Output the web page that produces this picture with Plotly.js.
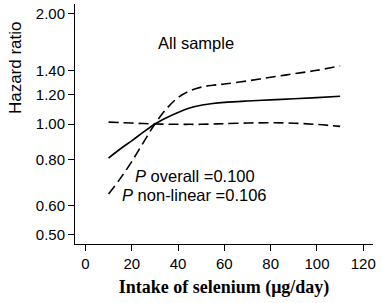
<!DOCTYPE html>
<html>
<head>
<meta charset="utf-8">
<script src="https://cdn.plot.ly/plotly-3.0.1.min.js"></script>
<style>html,body{margin:0;padding:0;background:#fff;}#chart{width:383px;height:303px;}</style>
</head>
<body>
<div id="chart"></div>
<script>
// Intake of selenium (µg/day)
var intake = [10, 15, 20, 25, 30, 35, 40, 45, 50, 55, 60, 70, 80, 90, 100, 110];
// Hazard ratio (solid)
var hr = [0.808, 0.855, 0.90, 0.95, 1.0, 1.04, 1.075, 1.105, 1.125, 1.137, 1.145, 1.155, 1.163, 1.171, 1.18, 1.19];
// Confidence bound crossing steeply (dashed)
var ciSteep = [0.645, 0.71, 0.79, 0.89, 1.0, 1.10, 1.18, 1.23, 1.26, 1.275, 1.285, 1.31, 1.34, 1.37, 1.40, 1.44];
// Confidence bound staying near 1 (dashed)
var ciFlat = [1.012, 1.009, 1.006, 1.003, 1.0, 0.999, 0.998, 0.998, 0.998, 1.0, 1.002, 1.006, 1.008, 1.005, 0.997, 0.985];

var yTickVals = [0.5, 0.6, 0.8, 1.0, 1.2, 1.4, 2.0];
var yTickText = ["0.50", "0.60", "0.80", "1.00", "1.20", "1.40", "2.00"];
var xTickVals = [0, 20, 40, 60, 80, 100, 120];

var dashStyle = {color: "#000", width: 1.6, dash: "10px,5px"};
var traces = [
  {x: intake, y: hr, mode: "lines", line: {color: "#000", width: 1.6, shape: "spline"}, hoverinfo: "skip"},
  {x: intake, y: ciSteep, mode: "lines", line: Object.assign({shape: "spline"}, dashStyle), hoverinfo: "skip"},
  {x: intake, y: ciFlat, mode: "lines", line: Object.assign({shape: "spline"}, dashStyle), hoverinfo: "skip"}
];

var sans = "Liberation Sans, Arial, sans-serif";
var annFont = {family: sans, size: 16.5, color: "#000"};
var layout = {
  width: 383, height: 303,
  margin: {l: 75, r: 10, t: 4, b: 59},
  paper_bgcolor: "#fff", plot_bgcolor: "#fff",
  showlegend: false,
  font: {family: sans, size: 15, color: "#000"},
  xaxis: {
    range: [-4.5, 124.2],
    tickvals: xTickVals,
    ticks: "outside", ticklen: 6, tickcolor: "#000", tickwidth: 1,
    showline: true, linecolor: "#000", linewidth: 1,
    showgrid: false, zeroline: false,
    tickfont: {family: sans, size: 15, color: "#000"},
    title: {text: "<b>Intake of selenium (μg/day)</b>", standoff: 9,
            font: {family: "Liberation Serif, Times New Roman, serif", size: 18, color: "#000"}}
  },
  yaxis: {
    type: "log",
    range: [-0.3267, 0.3267],
    tickvals: yTickVals, ticktext: yTickText,
    ticks: "outside", ticklen: 6, tickcolor: "#000", tickwidth: 1,
    showline: true, linecolor: "#000", linewidth: 1,
    showgrid: false, zeroline: false,
    tickfont: {family: sans, size: 15, color: "#000"}
  },
  annotations: [
    {x: -0.2013, y: 0.733, xref: "paper", yref: "paper", text: "Hazard ratio", showarrow: false,
     textangle: -90, xanchor: "center", yanchor: "middle", font: {family: sans, size: 17, color: "#000"}},
    {x: 47.6, y: Math.log10(1.66), xref: "x", yref: "y", text: "All sample", showarrow: false,
     xanchor: "center", yanchor: "middle", font: annFont},
    {x: 20.4, y: Math.log10(0.72), xref: "x", yref: "y", text: "<i>P</i> overall =0.100", showarrow: false,
     xanchor: "left", yanchor: "middle", font: annFont},
    {x: 14.9, y: Math.log10(0.64), xref: "x", yref: "y", text: "<i>P</i> non-linear =0.106", showarrow: false,
     xanchor: "left", yanchor: "middle", font: annFont}
  ]
};
Plotly.newPlot("chart", traces, layout, {staticPlot: true, displayModeBar: false});
</script>
</body>
</html>
